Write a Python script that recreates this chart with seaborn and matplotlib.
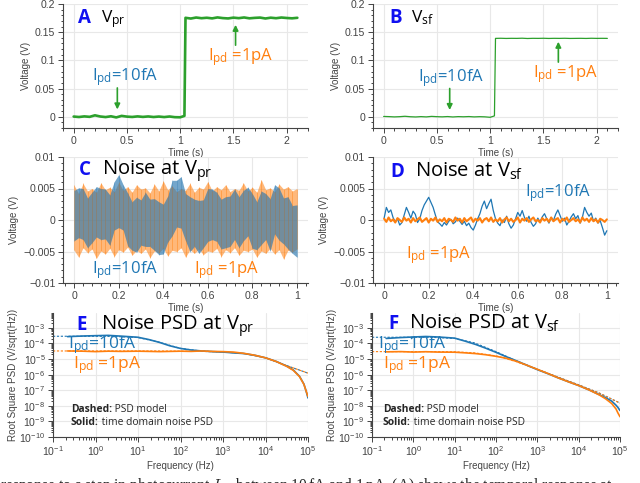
import numpy as np
import matplotlib
matplotlib.use("Agg")
import matplotlib.pyplot as plt
import seaborn as sns
from matplotlib.ticker import AutoMinorLocator, LogLocator, NullFormatter, FuncFormatter, MultipleLocator

# ---------------- data ----------------
# A / B: step response, time (s) and voltage (mV)
t_step = [0.0, 0.05, 0.1, 0.15, 0.2, 0.25, 0.3, 0.35, 0.4, 0.45, 0.5, 0.55, 0.6, 0.65,
          0.7, 0.75, 0.8, 0.85, 0.9, 0.95, 1.0, 1.04, 1.05, 1.1, 1.15, 1.2, 1.25, 1.3,
          1.35, 1.4, 1.45, 1.5, 1.55, 1.6, 1.65, 1.7, 1.75, 1.8, 1.85, 1.9, 1.95, 2.0,
          2.05, 2.1]
v_pr_mv = [0.3, -0.5, 0.6, -0.2, 2.5, 0.4, -0.6, 0.8, -1.2, 1.5, 0.2, -0.4, 0.6, -0.3,
           0.5, -0.5, 0.3, -0.6, 0.4, -0.8, -1.0, 1.5,
           175.5, 174.2, 176.0, 174.8, 175.6, 174.5, 176.2, 175.0, 174.4, 175.8, 174.9,
           176.1, 174.6, 175.4, 175.9, 174.3, 175.7, 174.8, 176.0, 175.2, 174.6, 175.5]
v_sf_mv = [0.5, 0.2, -0.3, 0.1, 0.8, 0.0, -0.4, 0.2, -0.3, 0.6, 0.1, -0.2, 0.3, -0.4,
           0.2, -0.1, 0.3, -0.3, 0.1, -0.2, -1.0, 1.5,
           139.0, 139.2, 138.9, 139.1, 139.0, 139.3, 138.8, 139.1, 139.0, 139.2, 138.9,
           139.1, 139.0, 139.2, 138.9, 139.0, 139.1, 138.9, 139.2, 139.0, 139.1, 139.0]

# C: noise envelopes at V_pr, 51 samples over 1 s (mV)
pr_1pa_hi = [5.5, 4.2, 5.8, 4.6, 5.0, 4.4, 5.9, 4.8, 5.2, 4.5, 6.0, 4.7, 5.3, 4.4, 5.6, 4.9,
             5.1, 4.3, 5.7, 4.6, 6.2, 4.8, 5.4, 4.5, 5.0, 4.7, 5.8, 4.4, 5.2, 4.9, 6.1, 4.6,
             5.3, 4.8, 5.6, 4.5, 5.0, 4.7, 5.9, 4.6, 5.2, 4.4, 6.4, 4.8, 5.1, 4.5, 5.7, 4.9,
             5.3, 4.6, 5.0]
pr_1pa_lo = [-4.8, -5.9, -4.4, -5.2, -4.6, -6.1, -4.9, -5.4, -4.5, -5.8, -4.7, -5.1, -4.3,
             -5.6, -4.8, -5.3, -4.6, -6.0, -4.9, -5.2, -4.5, -5.7, -4.8, -5.0, -4.4, -5.9,
             -4.7, -5.3, -4.6, -5.5, -4.9, -5.1, -4.5, -5.8, -4.7, -5.2, -4.4, -5.6, -4.8,
             -5.0, -4.6, -5.9, -4.9, -5.3, -4.5, -5.4, -4.7, -6.2, -4.8, -5.1, -4.6]
pr_10fa_hi = [4.7, 5.1, 5.0, 3.5, 4.4, 5.3, 5.0, 4.9, 4.0, 6.1, 7.2, 5.6, 4.3, 2.9, 3.6, 3.2,
              4.4, 3.3, 3.4, 2.9, 2.5, 3.8, 6.3, 6.3, 6.9, 4.2, 3.7, 3.3, 3.1, 3.2, 5.0, 4.9,
              4.4, 3.3, 3.7, 3.8, 4.9, 3.7, 4.7, 5.2, 4.2, 2.9, 4.6, 4.2, 3.4, 5.6, 5.1, 3.5,
              3.7, 2.3, 2.4]
pr_10fa_lo = [-3.3, -2.8, -3.1, -4.4, -3.6, -2.7, -3.1, -3.0, -4.0, -1.6, -1.2, -1.6, -4.1,
              -4.8, -5.1, -4.0, -4.2, -4.2, -4.8, -5.5, -5.4, -3.5, -2.5, -1.1, -1.3, -3.3,
              -5.0, -4.2, -5.3, -4.4, -3.4, -3.1, -3.4, -4.6, -4.4, -4.2, -3.1, -4.4, -3.3,
              -2.5, -4.5, -4.7, -3.9, -3.1, -4.9, -2.2, -3.2, -3.8, -4.6, -5.3, -5.9]
# D: noise at V_sf, 101 samples over 1 s (mV)
sf_10fa = [0.3, 2.0, 1.2, 1.6, 0.4, -0.3, 0.2, -0.8, -0.4, 0.8, 2.0, 1.2, 0.3, 1.4, 0.9,
           -0.4, 0.2, 1.5, 2.4, 3.0, 3.6, 2.8, 2.0, 0.8, -0.3, -0.6, -1.0, -0.4, -0.8, -0.2,
           0.1, -0.6, -0.3, 0.3, -0.2, -0.7, -0.2, -0.9, -0.5, -1.2, -1.6, -0.8, 0.2, 1.0,
           2.2, 3.0, 1.8, 2.6, 3.3, 1.5, 0.2, -0.5, -0.9, 0.0, -0.4, 0.6, -0.6, -1.3, -0.8,
           0.2, 1.2, 0.6, 1.5, 0.4, -0.2, 0.6, -0.4, -1.0, -0.6, 0.3, -0.3, 0.5, 1.0, 0.2,
           -0.5, 0.4, -0.1, 0.9, 1.6, 0.7, -0.2, 0.3, -0.8, -0.2, 0.5, 1.0, 0.2, 0.7, -0.5,
           0.4, 2.0, 1.2, 0.6, 1.1, -0.2, 0.3, -0.5, -0.1, -1.2, -2.4, -1.7]
sf_1pa = [0.2, -0.3, 0.4, -0.2, 0.1, -0.4, 0.3, 0.0, -0.3, 0.4, -0.1, 0.2, -0.4, 0.3, -0.2,
          0.1, 0.4, -0.3, 0.0, 0.3, -0.4, 0.2, -0.1, 0.4, -0.3, 0.1, -0.2, 0.3, -0.4, 0.2,
          0.0, -0.3, 0.4, -0.1, 0.2, -0.4, 0.3, -0.2, 0.1, 0.4, -0.3, 0.2, -0.1, 0.3, -0.4,
          0.1, 0.3, -0.2, 0.4, -0.3, 0.1, -0.2, 0.3, -0.4, 0.1, 0.4, -0.2, 0.2, -0.3, 0.0,
          0.4, -0.4, 0.2, -0.1, 0.3, -0.3, 0.1, 0.4, -0.2, 0.0, -0.4, 0.3, -0.1, 0.2, -0.3,
          0.4, -0.2, 0.1, 0.3, -0.4, 0.2, -0.1, 0.4, -0.3, 0.0, 0.3, -0.2, 0.1, -0.4, 0.4,
          -0.1, 0.2, -0.3, 0.3, -0.2, 0.1, -0.4, 0.2, 0.0, -0.3, 0.1]

# E / F: root square PSD (V/sqrt(Hz))
f_meas = [0.22, 0.5, 1, 2, 4, 10, 18, 32, 56, 100, 178, 316, 562, 1000, 1780, 3160, 5620,
          1e4, 1.78e4, 3.16e4, 4.5e4, 6.3e4, 8e4, 8.9e4, 1e5]
psd_pr_10fa = [2.75e-4, 3.0e-4, 3.16e-4, 3.3e-4, 2.95e-4, 2.5e-4, 1.78e-4, 1.17e-4, 7.1e-5,
               4.8e-5, 3.8e-5, 3.3e-5, 3.0e-5, 2.8e-5, 2.5e-5, 2.24e-5, 1.74e-5, 1.2e-5,
               7.1e-6, 3.5e-6, 2.0e-6, 7.9e-7, 2.5e-7, 1.0e-7, 3.2e-8]
psd_pr_1pa = [3.3e-5, 3.2e-5, 3.0e-5, 3.2e-5, 3.1e-5, 3.2e-5, 3.1e-5, 3.0e-5, 3.1e-5,
              3.2e-5, 3.1e-5, 3.3e-5, 3.1e-5, 3.0e-5, 2.8e-5, 2.3e-5, 1.75e-5, 1.2e-5,
              7.0e-6, 3.4e-6, 1.9e-6, 7.5e-7, 2.4e-7, 1.0e-7, 4.0e-8]
psd_sf_10fa = [2.1e-4, 2.4e-4, 2.6e-4, 2.8e-4, 2.6e-4, 2.2e-4, 1.4e-4, 8.7e-5, 5.0e-5,
               2.7e-5, 1.4e-5, 7.6e-6, 4.0e-6, 2.1e-6, 1.17e-6, 6.3e-7, 3.5e-7, 2.0e-7,
               1.05e-7, 5.2e-8, 3.3e-8, 2.0e-8, 1.1e-8, 7.9e-9, 5.0e-9]
psd_sf_1pa = [2.9e-5, 3.0e-5, 2.8e-5, 2.95e-5, 2.8e-5, 2.75e-5, 2.5e-5, 2.24e-5, 1.9e-5,
              1.5e-5, 1.12e-5, 7.1e-6, 4.0e-6, 2.2e-6, 1.2e-6, 6.3e-7, 3.5e-7, 2.0e-7,
              1.05e-7, 5.0e-8, 2.8e-8, 1.4e-8, 6.3e-9, 3.5e-9, 2.0e-9]
f_model = [0.1, 0.3, 1, 3, 10, 30, 100, 300, 1e3, 3e3, 1e4, 3e4, 1e5]
model_pr_10fa = [2.9e-4, 2.9e-4, 2.9e-4, 2.8e-4, 2.4e-4, 1.25e-4, 4.8e-5, 3.3e-5, 2.8e-5,
                 2.3e-5, 1.2e-5, 4.0e-6, 1.25e-6]
model_pr_1pa = [3.3e-5, 3.3e-5, 3.3e-5, 3.3e-5, 3.3e-5, 3.3e-5, 3.2e-5, 3.1e-5, 2.8e-5,
                2.3e-5, 1.2e-5, 4.0e-6, 1.25e-6]
model_sf_10fa = [2.5e-4, 2.5e-4, 2.5e-4, 2.45e-4, 2.1e-4, 1.1e-4, 3.0e-5, 8.0e-6, 2.2e-6,
                 7.3e-7, 2.2e-7, 7.0e-8, 1.5e-8]
model_sf_1pa = [3.0e-5, 3.0e-5, 3.0e-5, 3.0e-5, 2.9e-5, 2.5e-5, 1.6e-5, 7.0e-6, 2.2e-6,
                7.3e-7, 2.2e-7, 7.0e-8, 1.5e-8]

# ---------------- style ----------------
BLUE, ORANGE, GREEN = "#1f77b4", "#ff7f0e", "#2ca02c"
LETTER = "#1010f0"
GREY = "#444444"
sns.set_theme(style="white")
plt.rcParams["font.family"] = ["Liberation Sans", "DejaVu Sans"]
plt.rcParams["mathtext.fontset"] = "custom"
plt.rcParams["mathtext.rm"] = "Open Sans"
plt.rcParams["mathtext.it"] = "Open Sans:italic"
plt.rcParams["mathtext.bf"] = "Open Sans:bold"

fig = plt.figure(figsize=(6.4, 4.83), dpi=100)
W, H = 640, 483


def make_ax(x0, x1, y0, y1):
    return fig.add_axes([x0 / W, 1 - y1 / H, (x1 - x0) / W, (y1 - y0) / H])


def gfmt(v, pos):
    return ("%g" % round(v, 6)).replace("-", "\u2212")


def style(ax, xlabel, ylabel, ylsize=7):
    sns.despine(ax=ax)
    for s in ("left", "bottom"):
        ax.spines[s].set_color(GREY)
        ax.spines[s].set_linewidth(0.8)
    ax.grid(True, which="major", color="#e8e8e8", lw=0.8)
    ax.set_axisbelow(True)
    ax.tick_params(which="both", direction="out", colors=GREY, labelsize=7.6,
                   left=True, bottom=True, width=0.7, pad=2)
    ax.tick_params(which="major", length=3.5)
    ax.tick_params(which="minor", length=1.8)
    ax.set_xlabel(xlabel, fontsize=7, color=GREY, labelpad=2)
    ax.set_ylabel(ylabel, fontsize=ylsize, color=GREY, labelpad=3)


def title(ax, letter, text, xl, xt, y, size=14.5):
    ax.text(xl, y, letter, transform=ax.transAxes, color=LETTER, fontsize=13.5,
            fontweight="bold", family="Open Sans", va="baseline")
    ax.text(xt, y, text, transform=ax.transAxes, color="black", fontsize=size,
            family="Open Sans", va="baseline")


def label(ax, x, y, text, color, size=12, **kw):
    return ax.text(x, y, text, transform=ax.transAxes, color=color, fontsize=size,
                   family="Open Sans", va="center", **kw)


def legend_note(ax, x, y, bold, rest):
    t = ax.text(x, y, bold, transform=ax.transAxes, fontsize=7.4, family="Open Sans",
                fontweight="bold", va="bottom")
    ax.annotate(rest, xy=(1, 0), xycoords=t, fontsize=7.4, family="Open Sans",
                va="bottom", ha="left")


def noise_band(ax, t, lo, hi, color, fill_alpha, line_alpha):
    lo = np.array(lo) / 1000
    hi = np.array(hi) / 1000
    ax.fill_between(t, lo, hi, color=color, alpha=fill_alpha, lw=0)
    # vertical strokes between the envelope samples give the dense-noise texture
    for i in range(len(t)):
        ax.vlines(t[i], lo[i], hi[i], color=color, lw=0.6, alpha=line_alpha)


t_step_arr = np.array(t_step)
arrow = dict(arrowstyle="-|>", color=GREEN, lw=1.2, mutation_scale=8)

# ---- A ----
axA = make_ax(63, 308, 4, 128)
sns.lineplot(x=t_step_arr, y=np.array(v_pr_mv) / 1000, ax=axA, color=GREEN, lw=1.9)
axA.set_xlim(-0.1, 2.2)
axA.set_ylim(-0.02, 0.2)
style(axA, "Time (s)", "Voltage (V)")
title(axA, "A", r"V$_{\mathrm{pr}}$", 0.06, 0.155, 0.85, size=12.5)
axA.annotate("", xy=(0.41, 0.008), xytext=(0.41, 0.056), arrowprops=arrow)
axA.annotate("", xy=(1.52, 0.168), xytext=(1.52, 0.122), arrowprops=arrow)
label(axA, 0.118, 0.41, r"I$_{\mathrm{pd}}$=10fA", BLUE)
label(axA, 0.59, 0.57, r"I$_{\mathrm{pd}}$ =1pA", ORANGE)

# ---- B ----
axB = make_ax(373, 618, 4, 128)
sns.lineplot(x=t_step_arr, y=np.array(v_sf_mv) / 1000, ax=axB, color=GREEN, lw=0.9)
axB.set_xlim(-0.1, 2.2)
axB.set_ylim(-0.02, 0.2)
style(axB, "Time (s)", "Voltage (V)")
title(axB, "B", r"V$_{\mathrm{sf}}$", 0.065, 0.154, 0.85, size=12.5)
axB.annotate("", xy=(0.62, 0.007), xytext=(0.62, 0.055), arrowprops=arrow)
axB.annotate("", xy=(1.64, 0.138), xytext=(1.64, 0.092), arrowprops=arrow)
label(axB, 0.184, 0.40, r"I$_{\mathrm{pd}}$=10fA", BLUE)
label(axB, 0.653, 0.435, r"I$_{\mathrm{pd}}$ =1pA", ORANGE)

for ax in (axA, axB):
    ax.xaxis.set_major_locator(MultipleLocator(0.5))
    ax.yaxis.set_major_locator(MultipleLocator(0.05))
    ax.xaxis.set_minor_locator(AutoMinorLocator(5))
    ax.yaxis.set_minor_locator(AutoMinorLocator(5))
    ax.xaxis.set_major_formatter(FuncFormatter(gfmt))
    ax.yaxis.set_major_formatter(FuncFormatter(gfmt))

# ---- C ----
axC = make_ax(63, 308, 157, 283)
t_c = np.linspace(0, 1, len(pr_1pa_hi))
noise_band(axC, t_c, pr_1pa_lo, pr_1pa_hi, ORANGE, 0.55, 0.5)
noise_band(axC, t_c, pr_10fa_lo, pr_10fa_hi, "#2a78b0", 0.66, 0.35)
axC.set_xlim(-0.05, 1.05)
axC.set_ylim(-0.01, 0.01)
style(axC, "Time (s)", "Voltage (V)")
title(axC, "C", r"Noise at V$_{\mathrm{pr}}$", 0.064, 0.158, 0.857)
label(axC, 0.117, 0.10, r"I$_{\mathrm{pd}}$=10fA", BLUE)
label(axC, 0.535, 0.10, r"I$_{\mathrm{pd}}$ =1pA", ORANGE)

# ---- D ----
axD = make_ax(373, 618, 157, 283)
t_d = np.linspace(0, 1, len(sf_10fa))
sns.lineplot(x=t_d, y=np.array(sf_10fa) / 1000, ax=axD, color=BLUE, lw=0.9)
sns.lineplot(x=t_d, y=np.array(sf_1pa) / 1000, ax=axD, color=ORANGE, lw=1.5)
axD.set_xlim(-0.05, 1.05)
axD.set_ylim(-0.01, 0.01)
style(axD, "Time (s)", "Voltage (V)")
title(axD, "D", r"Noise at V$_{\mathrm{sf}}$", 0.069, 0.17, 0.84)
label(axD, 0.62, 0.71, r"I$_{\mathrm{pd}}$=10fA", BLUE)
label(axD, 0.135, 0.22, r"I$_{\mathrm{pd}}$ =1pA", ORANGE)

for ax in (axC, axD):
    ax.xaxis.set_major_locator(MultipleLocator(0.2))
    ax.yaxis.set_major_locator(MultipleLocator(0.005))
    ax.xaxis.set_minor_locator(AutoMinorLocator(5))
    ax.yaxis.set_minor_locator(AutoMinorLocator(5))
    ax.xaxis.set_major_formatter(FuncFormatter(gfmt))
    ax.yaxis.set_major_formatter(FuncFormatter(gfmt))

# ---- E / F ----
axE = make_ax(53, 308, 313, 437)
axF = make_ax(372, 620, 313, 437)
psd_sets = [
    (axE, model_pr_10fa, model_pr_1pa, psd_pr_10fa, psd_pr_1pa),
    (axF, model_sf_10fa, model_sf_1pa, psd_sf_10fa, psd_sf_1pa),
]
for ax, m10, m1, s10, s1 in psd_sets:
    sns.lineplot(x=f_model, y=m10, ax=ax, color=BLUE, lw=0.8, linestyle=(0, (2, 1.5)))
    sns.lineplot(x=f_model, y=m1, ax=ax, color=ORANGE, lw=0.8, linestyle=(0, (2, 1.5)))
    sns.lineplot(x=f_meas, y=s10, ax=ax, color=BLUE, lw=1.2)
    sns.lineplot(x=f_meas, y=s1, ax=ax, color=ORANGE, lw=1.2)
    ax.set_xscale("log")
    ax.set_yscale("log")
    ax.set_xlim(0.1, 1e5)
    ax.set_ylim(1e-10, 9e-3)
    ax.xaxis.set_major_locator(LogLocator(base=10, numticks=20))
    ax.yaxis.set_major_locator(LogLocator(base=10, numticks=20))
    ax.xaxis.set_minor_locator(LogLocator(base=10, subs=np.arange(2, 10), numticks=20))
    ax.yaxis.set_minor_locator(LogLocator(base=10, subs=np.arange(2, 10), numticks=20))
    ax.xaxis.set_minor_formatter(NullFormatter())
    ax.yaxis.set_minor_formatter(NullFormatter())
    style(ax, "Frequency (Hz)", "Root Square PSD (V/sqrt(Hz))", ylsize=7.1)
    ax.yaxis.labelpad = 1
    ax.grid(False, which="minor")

title(axE, "E", r"Noise PSD at V$_{\mathrm{pr}}$", 0.093, 0.19, 0.863)
label(axE, 0.06, 0.74, r"I$_{\mathrm{pd}}$=10fA", BLUE, size=12.5)
label(axE, 0.077, 0.58, r"I$_{\mathrm{pd}}$ =1pA", ORANGE, size=12.5)
legend_note(axE, 0.07, 0.18, "Dashed:", " PSD model")
legend_note(axE, 0.07, 0.07, "Solid:", " time domain noise PSD")

title(axF, "F", r"Noise PSD at V$_{\mathrm{sf}}$", 0.065, 0.15, 0.87)
label(axF, 0.025, 0.74, r"I$_{\mathrm{pd}}$=10fA", BLUE, size=12.5)
label(axF, 0.045, 0.58, r"I$_{\mathrm{pd}}$ =1pA", ORANGE, size=12.5)
legend_note(axF, 0.043, 0.18, "Dashed:", " PSD model")
legend_note(axF, 0.043, 0.07, "Solid:", " time domain noise PSD")

# caption line cut off at the bottom of the image
fig.text(0.0, -0.016, r"response to a step in photocurrent $I_{pd}$ between 10$\,$fA and 1$\,$pA. "
         "(A) shows the temporal response at", family="Liberation Serif", fontsize=11.2,
         math_fontfamily="cm", va="baseline", ha="left")

fig.savefig("out.png", dpi=100)
